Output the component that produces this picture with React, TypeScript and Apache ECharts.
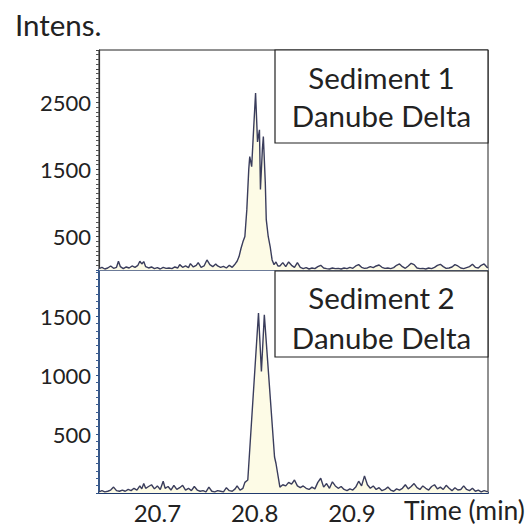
import React, { useEffect, useRef } from "react";
import * as echarts from "echarts";

// Extracted-ion chromatograms, [retention time (min), intensity]
const sediment1Trace: [number, number][] = [
  [20.640, 20], [20.643, 40], [20.646, 15], [20.649, 30], [20.652, 60], [20.655, 25],
  [20.658, 40], [20.660, 130], [20.662, 50], [20.665, 20], [20.668, 45], [20.671, 30],
  [20.674, 60], [20.677, 40], [20.680, 70], [20.682, 130], [20.684, 90], [20.686, 125],
  [20.688, 50], [20.691, 30], [20.694, 45], [20.697, 20], [20.700, 35], [20.703, 15],
  [20.706, 40], [20.709, 25], [20.712, 30], [20.715, 20], [20.718, 45], [20.721, 30],
  [20.723, 80], [20.726, 40], [20.729, 60], [20.732, 35], [20.734, 95], [20.737, 45],
  [20.740, 70], [20.742, 110], [20.745, 40], [20.748, 60], [20.751, 150], [20.754, 80],
  [20.757, 50], [20.760, 90], [20.762, 60], [20.765, 40], [20.768, 55], [20.771, 30],
  [20.774, 70], [20.777, 40], [20.780, 90], [20.782, 130], [20.784, 200], [20.786, 320],
  [20.788, 420], [20.790, 500], [20.792, 900], [20.794, 1500], [20.795, 1690], [20.797, 1540],
  [20.799, 2100], [20.801, 2640], [20.803, 1910], [20.805, 2090], [20.806, 1200], [20.808, 1800],
  [20.809, 1990], [20.811, 1300], [20.812, 750], [20.814, 500], [20.816, 350], [20.818, 150],
  [20.820, 80], [20.822, 120], [20.824, 60], [20.826, 60], [20.829, 110], [20.832, 50],
  [20.835, 120], [20.838, 70], [20.841, 40], [20.844, 110], [20.847, 40], [20.850, 20],
  [20.853, 35], [20.856, 15], [20.859, 30], [20.862, 20], [20.865, 50], [20.868, 70],
  [20.871, 30], [20.874, 20], [20.877, 15], [20.880, 30], [20.883, 20], [20.886, 25],
  [20.889, 15], [20.892, 30], [20.895, 20], [20.898, 40], [20.901, 25], [20.904, 60],
  [20.907, 80], [20.910, 40], [20.913, 25], [20.916, 30], [20.919, 50], [20.922, 35],
  [20.925, 60], [20.928, 75], [20.931, 40], [20.934, 25], [20.937, 30], [20.940, 20],
  [20.943, 35], [20.946, 70], [20.949, 90], [20.952, 50], [20.955, 25], [20.958, 60],
  [20.961, 100], [20.964, 80], [20.967, 30], [20.970, 20], [20.973, 25], [20.976, 15],
  [20.979, 30], [20.982, 20], [20.985, 40], [20.988, 70], [20.991, 85], [20.994, 50],
  [20.997, 25], [21.000, 30], [21.003, 45], [21.006, 80], [21.009, 60], [21.012, 30],
  [21.015, 20], [21.018, 35], [21.021, 50], [21.024, 85], [21.027, 40], [21.030, 30],
  [21.033, 70], [21.036, 90], [21.039, 40], [21.040, 30],
];

const sediment2Trace: [number, number][] = [
  [20.640, 10], [20.643, 20], [20.646, 10], [20.649, 15], [20.652, 25], [20.655, 50],
  [20.658, 20], [20.661, 15], [20.664, 25], [20.667, 15], [20.670, 30], [20.673, 20],
  [20.676, 40], [20.679, 25], [20.682, 60], [20.684, 35], [20.686, 80], [20.688, 40],
  [20.691, 55], [20.694, 70], [20.697, 35], [20.700, 60], [20.703, 30], [20.706, 100],
  [20.708, 40], [20.711, 55], [20.714, 25], [20.717, 65], [20.720, 30], [20.723, 45],
  [20.726, 65], [20.729, 25], [20.732, 40], [20.735, 20], [20.738, 55], [20.741, 25],
  [20.744, 15], [20.747, 20], [20.750, 10], [20.753, 50], [20.756, 15], [20.759, 10],
  [20.762, 20], [20.765, 15], [20.768, 10], [20.771, 45], [20.774, 20], [20.777, 15],
  [20.780, 35], [20.782, 60], [20.785, 25], [20.788, 40], [20.790, 90], [20.793, 110],
  [20.804, 1525], [20.807, 1030], [20.810, 1510], [20.8205, 305], [20.822, 250], [20.826, 50],
  [20.829, 70], [20.832, 60], [20.835, 90], [20.838, 75], [20.841, 110], [20.844, 60],
  [20.847, 45], [20.850, 60], [20.853, 40], [20.856, 30], [20.859, 50], [20.862, 35],
  [20.865, 90], [20.868, 125], [20.871, 50], [20.874, 80], [20.877, 40], [20.880, 95],
  [20.883, 60], [20.886, 40], [20.889, 55], [20.892, 30], [20.895, 20], [20.898, 35],
  [20.901, 25], [20.904, 50], [20.907, 100], [20.910, 60], [20.913, 145], [20.916, 70],
  [20.919, 40], [20.922, 60], [20.925, 30], [20.928, 45], [20.931, 20], [20.934, 30],
  [20.937, 50], [20.940, 25], [20.943, 15], [20.946, 35], [20.949, 25], [20.952, 40],
  [20.955, 70], [20.958, 35], [20.961, 55], [20.964, 80], [20.967, 45], [20.970, 30],
  [20.973, 60], [20.976, 40], [20.979, 25], [20.982, 55], [20.985, 70], [20.988, 35],
  [20.991, 50], [20.994, 30], [20.997, 65], [21.000, 40], [21.003, 20], [21.006, 45],
  [21.009, 25], [21.012, 30], [21.015, 60], [21.018, 30], [21.021, 20], [21.024, 40],
  [21.027, 15], [21.030, 25], [21.033, 10], [21.036, 20], [21.040, 10],
];

const timeRange = [20.64, 21.04];
const timeTicks = [20.7, 20.8, 20.9];
const topIntensityTicks = [500, 1500, 2500];
const bottomIntensityTicks = [500, 1000, 1500];
const topIntensityMax = 3280;
const bottomIntensityMax = 1890;
const panelLabels = [
  ["Sediment 1", "Danube Delta"],
  ["Sediment 2", "Danube Delta"],
];

const FONT = "Lato";
const TRACE = "#3a3d5c";
const FILL = "#fdfbe6";

export default function App() {
  const ref = useRef<HTMLDivElement>(null);

  useEffect(() => {
    if (!ref.current) return;
    const chart = echarts.init(ref.current, undefined, { renderer: "svg" });

    const grids = [
      { left: 99, top: 50, width: 389, height: 220 },
      { left: 99, top: 270, width: 389, height: 223 },
    ];

    const yLabel = {
      fontFamily: FONT,
      fontSize: 22,
      color: "#222",
      margin: 8,
      formatter: (v: number) => String(v),
    };

    const option: echarts.EChartsOption = {
      animation: false,
      backgroundColor: "#ffffff",
      grid: grids.map((g) => ({
        ...g,
        show: true,
        borderColor: "#222",
        borderWidth: 1,
        backgroundColor: "transparent",
      })),
      xAxis: [
        {
          type: "value",
          gridIndex: 0,
          min: timeRange[0],
          max: timeRange[1],
          axisLine: { show: true, onZero: false, lineStyle: { color: "#7386ad", width: 1.5 } },
          axisTick: { show: false },
          axisLabel: { show: false },
          splitLine: { show: false },
        },
        {
          type: "value",
          gridIndex: 1,
          min: timeRange[0],
          max: timeRange[1],
          axisLine: { show: true, onZero: false, lineStyle: { color: "#203a6e", width: 2 } },
          axisTick: { show: false },
          axisLabel: {
            customValues: timeTicks,
            formatter: (v: number) => v.toFixed(1),
            fontFamily: FONT,
            fontSize: 24,
            color: "#222",
            margin: 7,
          },
          splitLine: { show: false },
        },
      ],
      yAxis: [
        {
          type: "value",
          gridIndex: 0,
          min: 0,
          max: topIntensityMax,
          interval: 500,
          axisLine: { show: true, lineStyle: { color: "#333", width: 1.2 } },
          axisTick: { show: true, length: 3, lineStyle: { color: "#444" } },
          minorTick: { show: true, splitNumber: 7, length: 3, lineStyle: { color: "#555" } },
          axisLabel: { ...yLabel, customValues: topIntensityTicks },
          splitLine: { show: false },
        },
        {
          type: "value",
          gridIndex: 1,
          min: 0,
          max: bottomIntensityMax,
          interval: 500,
          axisLine: { show: true, lineStyle: { color: "#2e5288", width: 1.8 } },
          axisTick: { show: true, length: 3, lineStyle: { color: "#2e5288" } },
          minorTick: { show: true, splitNumber: 8, length: 3, lineStyle: { color: "#3b5d92" } },
          axisLabel: { ...yLabel, customValues: bottomIntensityTicks },
          splitLine: { show: false },
        },
      ],
      series: [sediment1Trace, sediment2Trace].map((trace, i) => ({
        type: "line",
        xAxisIndex: i,
        yAxisIndex: i,
        data: trace,
        showSymbol: false,
        symbol: "none",
        lineStyle: { color: TRACE, width: 1.4 },
        areaStyle: { color: FILL, opacity: 1 },
        z: 1,
      })),
      graphic: [
        {
          type: "text",
          left: 15,
          top: 9,
          style: { text: "Intens.", fontFamily: FONT, fontSize: 29.5, fill: "#222" },
        },
        {
          type: "text",
          left: 404,
          top: 496,
          style: { text: "Time (min)", fontFamily: FONT, fontSize: 26.5, fill: "#222" },
        },
        ...[
          { y: 50, h: 93, l1: 77, l2: 115 },
          { y: 271, h: 86, l1: 297, l2: 337 },
        ].flatMap((b, i) => [
          {
            type: "rect",
            shape: { x: 275, y: b.y, width: 213, height: b.h },
            style: { fill: "#fff", stroke: "#222", lineWidth: 1.2 },
            z: 10,
          },
          {
            type: "text",
            x: 381.5,
            y: b.l1,
            style: {
              text: panelLabels[i][0],
              fontFamily: FONT,
              fontSize: 29.5,
              fill: "#222",
              align: "center",
              verticalAlign: "middle",
            },
            z: 11,
          },
          {
            type: "text",
            x: 381.5,
            y: b.l2,
            style: {
              text: panelLabels[i][1],
              fontFamily: FONT,
              fontSize: 29.5,
              fill: "#222",
              align: "center",
              verticalAlign: "middle",
            },
            z: 11,
          },
        ]),
      ],
    };

    chart.setOption(option);
    return () => chart.dispose();
  }, []);

  return (
    <div
      ref={ref}
      style={{ position: "absolute", left: 0, top: 0, width: 531, height: 529 }}
    />
  );
}
